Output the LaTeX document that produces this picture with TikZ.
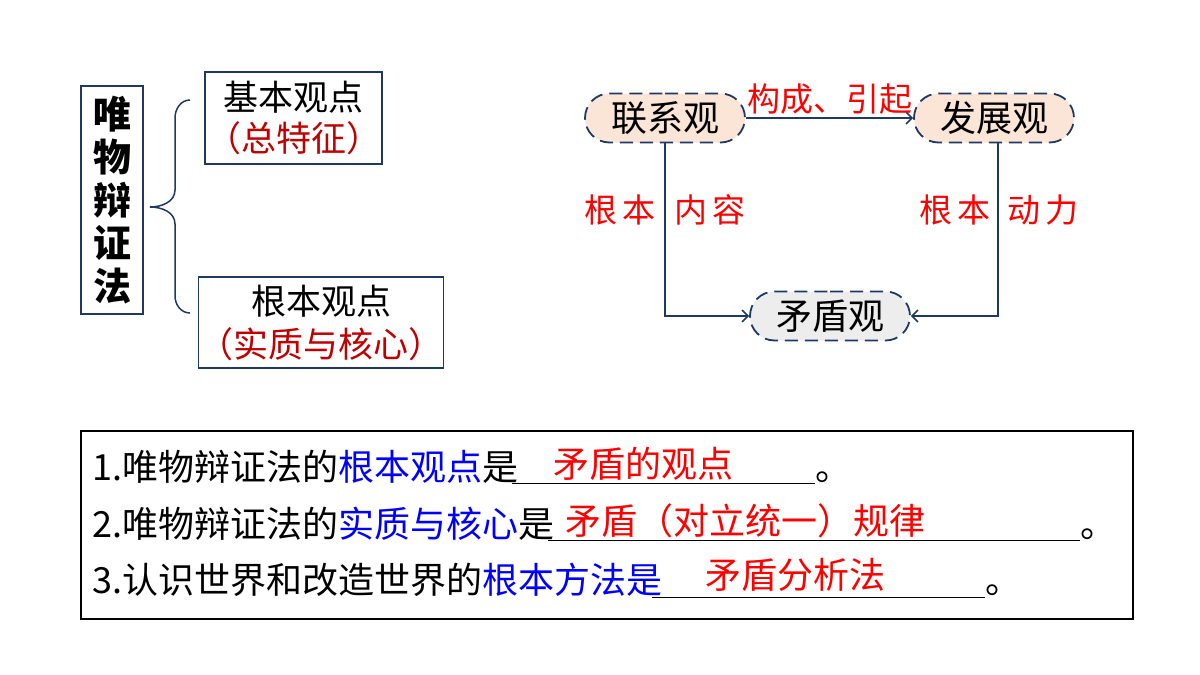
\documentclass[tikz,border=0pt]{standalone}
\usepackage{fontspec}
\newfontfamily\cjk{Noto Sans CJK SC}
\usetikzlibrary{arrows.meta,shapes.misc}
\definecolor{navy}{HTML}{1F3864}
\definecolor{dred}{HTML}{C00000}
\definecolor{peach}{HTML}{FBE5D6}
\definecolor{lgray}{HTML}{EDEDED}
\begin{document}
\begin{tikzpicture}[x=1pt,y=-1pt,
  every node/.style={font=\cjk},
  box/.style={draw=navy,line width=1.5pt},
  pill/.style={draw=navy,line width=1.8pt,dash pattern=on 13pt off 7pt,rounded rectangle,minimum width=164pt,minimum height=49pt,inner xsep=2pt,font=\cjk\fontsize{36}{38}\selectfont},
  lab/.style={text=red,font=\cjk\fontsize{33}{35}\selectfont},
  arr/.style={draw=navy,line width=1.5pt,-{Straight Barb[length=6pt,width=12pt]}},
  t/.style={font=\cjk\fontsize{36}{38}\selectfont,anchor=base west,inner sep=0pt}]
\useasboundingbox (0,0) rectangle (1200,675);
% left
\node[box,minimum width=62pt,minimum height=228pt,inner sep=0pt,align=center,font=\cjk\bfseries\fontsize{38}{43}\selectfont] (w) at (112,200) {唯\\物\\辩\\证\\法};
\draw[navy,line width=1.5pt] (190,100) coordinate (b1) to[out=180,in=90] (175,118) -- (175,190) to[out=270,in=0] (150,207) coordinate (bm) to[out=0,in=90] (175,224) -- (175,296) to[out=270,in=180] (190,313) coordinate (b2);
\node[box,minimum width=177pt,minimum height=92pt,inner sep=0pt,align=center,font=\cjk\fontsize{35}{41}\selectfont] (k1) at (293.5,118) {基本观点\\\textcolor{dred}{（总特征）}};
\node[box,minimum width=232pt,minimum height=91pt,inner sep=0pt,align=center,font=\cjk\fontsize{35}{43}\selectfont] (k2) at (321,322.5) {根本观点\\\textcolor{dred}{（实质与核心）}};
% right
\node[pill,fill=peach] (l) at (665,118) {联系观};
\node[pill,fill=peach] (f) at (994,118) {发展观};
\node[pill,fill=lgray] (m) at (830,316) {矛盾观};
\draw[arr] (l.east) -- (f.west) node[midway,above=0pt,lab]{构成、引起};
\draw[arr] (l.south) |- (m.west);
\draw[arr] (f.south -| 998,0) |- (m.east);
\node[lab] (n1) at (620,210) {根\,本};
\node[lab] (n2) at (710,210) {内\,容};
\node[lab] (n3) at (955,210) {根\,本};
\node[lab] (n4) at (1043,210) {动\,力};
% bottom box
\node[draw=black,line width=1.5pt,minimum width=1052pt,minimum height=188pt,inner sep=0pt] (bb) at (607,525) {};
\node[t] (a1) at (92,480) {1.唯物辩证法的\textcolor{blue}{根本观点}是};
\draw[black,line width=1pt] (512,483) -- (815,483);
\node[t,text=red] (r1) at (553,477) {矛盾的观点};
\node[t] (p1) at (815,480) {。};
\node[t] (a2) at (92,537) {2.唯物辩证法的\textcolor{blue}{实质与核心}是};
\draw[black,line width=1pt] (548,540) -- (1080,540);
\node[t,text=red] (r2) at (565,534) {矛盾（对立统一）规律};
\node[t] (p2) at (1080,537) {。};
\node[t] (a3) at (92,593) {3.认识世界和改造世界的\textcolor{blue}{根本方法是}};
\draw[black,line width=1pt] (652,597) -- (985,597);
\node[t,text=red] (r3) at (705,588) {矛盾分析法};
\node[t] (p3) at (985,593) {。};
\end{tikzpicture}
\end{document}
